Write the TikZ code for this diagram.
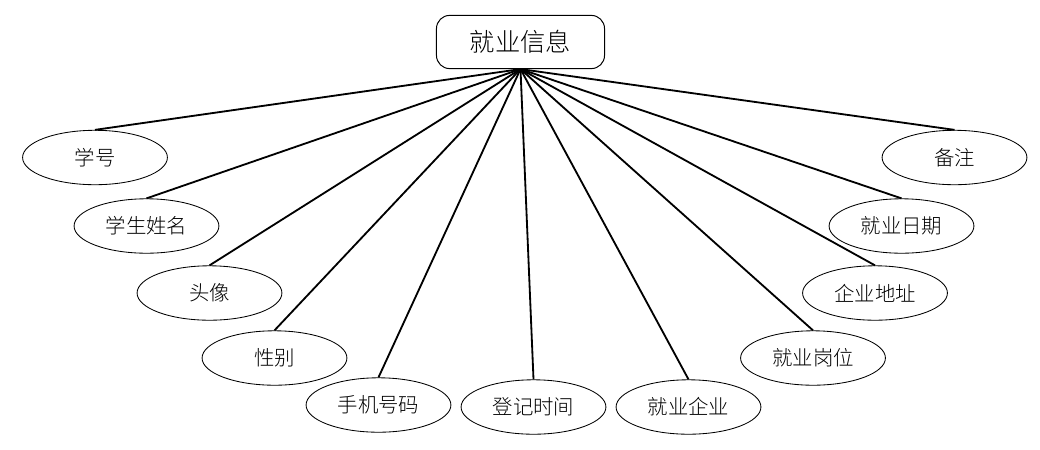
\documentclass[tikz,border=0pt]{standalone}
\usepackage{fontspec}
\setmainfont{Noto Sans CJK SC Light}
\usetikzlibrary{shapes.geometric}

\begin{document}
\begin{tikzpicture}[
    x=0.025cm, y=-0.025cm,
    entity/.style={draw, rounded corners=0.33cm, minimum width=4.2cm, minimum height=1.33cm, line width=0.7pt, font=\fontsize{18}{21}\selectfont},
    attr/.style={draw, ellipse, minimum width=3.62cm, minimum height=1.36cm, inner sep=0pt, line width=0.6pt, font=\fontsize{14.5}{17}\selectfont},
    link/.style={line width=1.3pt},
]
\useasboundingbox (0,0) rectangle (1040,449);

% Entity
\node[entity] (info) at (520.5, 42) {就业信息};

% Attributes
\node[attr] (xh)   at (95, 157.5)  {学号};
\node[attr] (xm)   at (146.5, 226) {学生姓名};
\node[attr] (tx)   at (209.5, 293) {头像};
\node[attr] (xb)   at (274.5, 358) {性别};
\node[attr] (sj)   at (378.5, 405) {手机号码};
\node[attr] (djsj) at (533.5, 407) {登记时间};
\node[attr] (qy)   at (688.5, 407) {就业企业};
\node[attr] (gw)   at (813, 358)   {就业岗位};
\node[attr] (dz)   at (875, 293)   {企业地址};
\node[attr] (rq)   at (901.5, 226) {就业日期};
\node[attr] (bz)   at (954.5, 157.5) {备注};

% Links
\foreach \a in {xh, xm, tx, xb, sj, djsj, qy, gw, dz, rq, bz}
    \draw[link] (info.south) -- (\a.north);

\end{tikzpicture}
\end{document}
